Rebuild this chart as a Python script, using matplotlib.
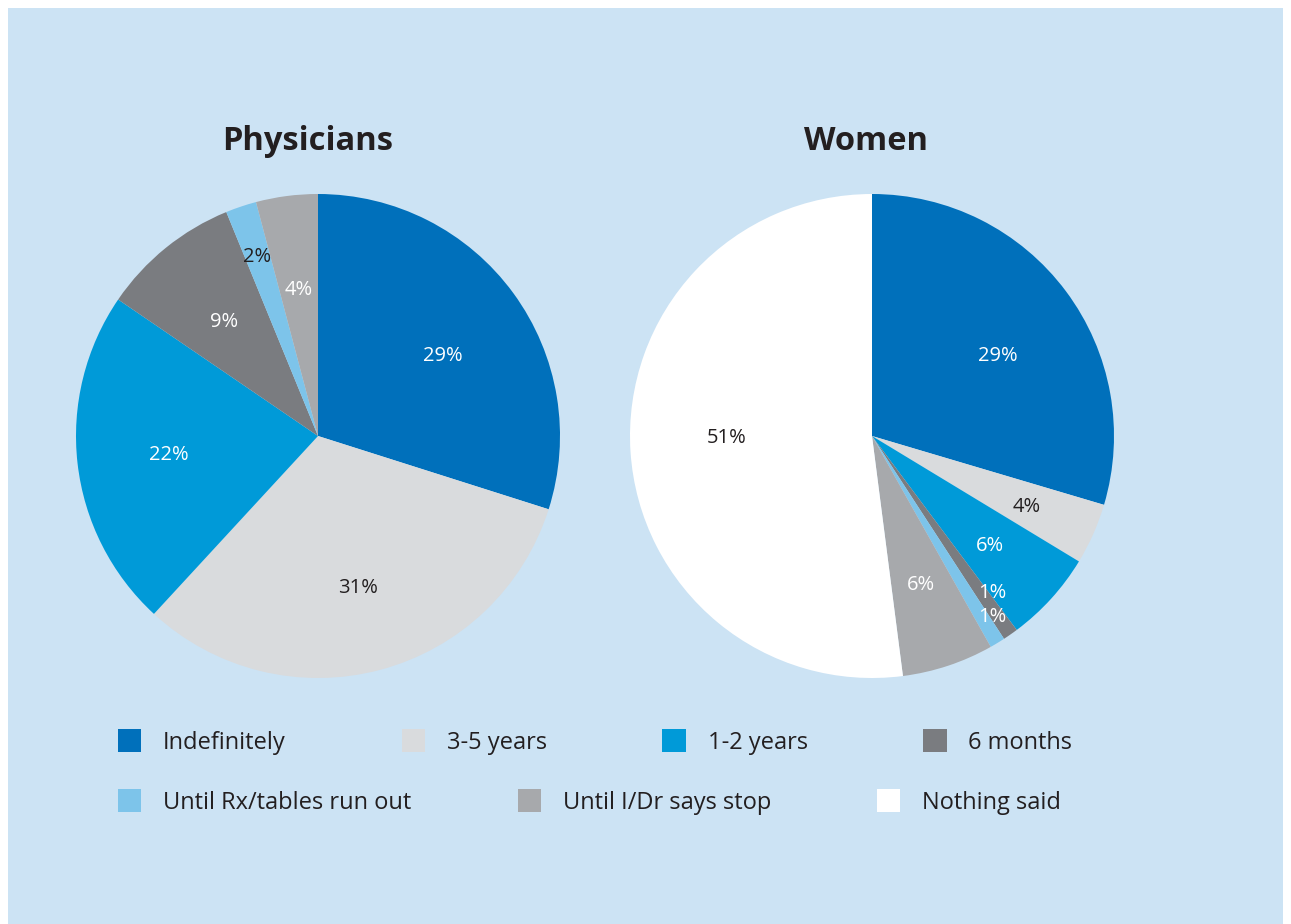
import matplotlib.pyplot as plt
import matplotlib.patches as mpatches
import numpy as np

# data
categories = ["Indefinitely", "3-5 years", "1-2 years", "6 months",
              "Until Rx/tables run out", "Until I/Dr says stop", "Nothing said"]
colors = ["#0070bb", "#d9dbdd", "#009ad8", "#7a7c80", "#7dc4ea", "#a7a9ac", "#ffffff"]

phys_labels = ["Indefinitely", "3-5 years", "1-2 years", "6 months",
               "Until Rx/tables run out", "Until I/Dr says stop"]
phys_values = [29, 31, 22, 9, 2, 4]

women_labels = ["Indefinitely", "3-5 years", "1-2 years", "6 months",
                "Until Rx/tables run out", "Until I/Dr says stop", "Nothing said"]
women_values = [29, 4, 6, 1, 1, 6, 51]

DARK = "#231f20"
BG = "#cce3f4"
FONT = ["Open Sans", "DejaVu Sans"]

# label styling per wedge: (text colour, radial distance, angle nudge in degrees)
phys_style = [("white", 0.62, -2.7), (DARK, 0.64, 0), ("white", 0.62, 0),
              ("white", 0.62, 0), (DARK, 0.79, 0), ("white", 0.62, 0)]
women_style = [("white", 0.62, -3.6), (DARK, 0.70, 0), ("white", 0.66, 0),
               ("white", 0.81, 3.0), ("white", 0.89, 2.8), ("white", 0.64, 0),
               (DARK, 0.60, -3.7)]

W, H = 1291, 924
fig = plt.figure(figsize=(W / 100, H / 100), dpi=100)
fig.patch.set_facecolor("white")
fig.add_artist(mpatches.Rectangle((8 / W, 0), 1275 / W, 1 - 8 / H,
                                  transform=fig.transFigure, facecolor=BG,
                                  edgecolor="none", zorder=0))


def draw_pie(left_px, labels, values, style, title, title_x):
    ax = fig.add_axes([left_px / W, 1 - 678 / H, 484 / W, 484 / H])
    ax.set_facecolor("none")
    cols = [colors[categories.index(l)] for l in labels]
    wedges, _ = ax.pie(values, colors=cols, startangle=90, counterclock=False,
                       wedgeprops=dict(linewidth=0))
    ax.set_xlim(-1, 1)
    ax.set_ylim(-1, 1)
    ax.set_aspect("equal")
    ax.axis("off")
    for w, v, (c, d, nudge) in zip(wedges, values, style):
        ang = np.deg2rad((w.theta1 + w.theta2) / 2 + nudge)
        ax.text(d * np.cos(ang), d * np.sin(ang), "%d%%" % v, color=c,
                ha="center", va="center_baseline", fontsize=14.5, family=FONT)
    fig.text(title_x / W, 1 - 141 / H, title, ha="center", va="center",
             fontsize=23.5, fontweight="bold", color=DARK, family=FONT)


draw_pie(76, phys_labels, phys_values, phys_style, "Physicians", 308)
draw_pie(630, women_labels, women_values, women_style, "Women", 866)

# legend in two rows
handles = [mpatches.Patch(facecolor=c, edgecolor="none") for c in colors]
rows = [(0, 4, 742, 4.9), (4, 7, 802, 4.5)]
for a, b, y, spacing in rows:
    leg = fig.legend(handles[a:b], categories[a:b], ncol=b - a,
                     loc="center left", bbox_to_anchor=(118 / W, 1 - y / H),
                     frameon=False, handlelength=0.98, handleheight=1.06,
                     handletextpad=0.93, columnspacing=spacing, borderpad=0,
                     borderaxespad=0, prop={"family": FONT, "size": 17})
    for t in leg.get_texts():
        t.set_color(DARK)

fig.savefig("out.png", dpi=100, facecolor=fig.get_facecolor())
